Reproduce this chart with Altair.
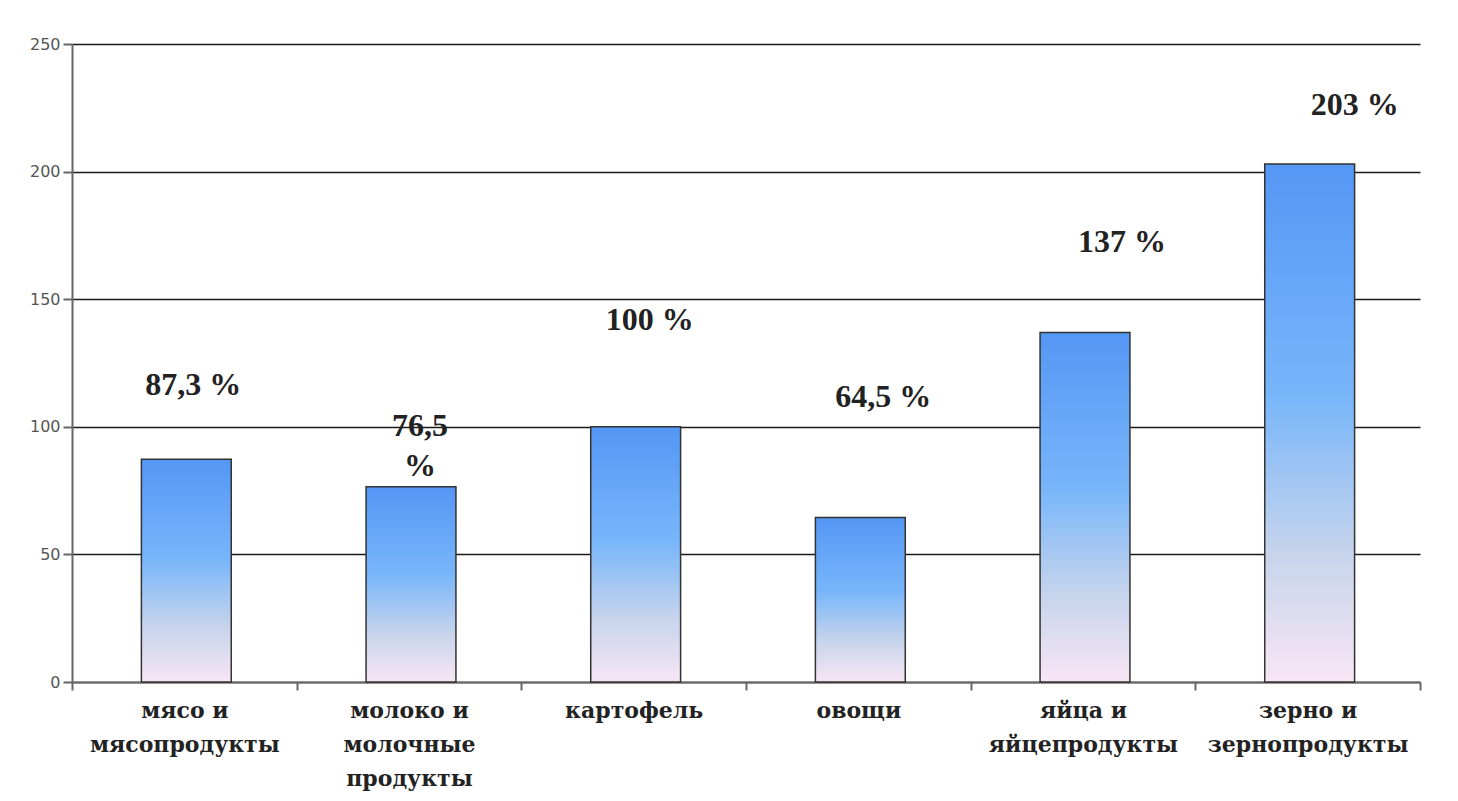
import altair as alt
import pandas as pd

categories = [
    "мясо и\nмясопродукты",
    "молоко и\nмолочные\nпродукты",
    "картофель",
    "овощи",
    "яйца и\nяйцепродукты",
    "зерно и\nзернопродукты",
]
values = [87.3, 76.5, 100, 64.5, 137, 203]
labels = ["87,3 %", "76,5\n%", "100 %", "64,5 %", "137 %", "203 %"]
y_ticks = [0, 50, 100, 150, 200, 250]

df = pd.DataFrame({"cat": categories, "val": values, "lab": labels})

# label offsets (style: where each annotation sits relative to its bar top)
label_dx = [7, 9, 14, 23, 37, 45]
label_dy = [-74, -61, -107, -120, -90, -59]

x_enc = alt.X(
    "cat:N",
    sort=categories,
    scale=alt.Scale(paddingInner=0, paddingOuter=0),
    axis=alt.Axis(
        title=None,
        labelAngle=0,
        labelExpr="split(datum.label, '\\n')",
        labelFont="DejaVu Serif",
        labelFontWeight="bold",
        labelFontSize=22,
        labelColor="#222222",
        labelLineHeight=34,
        labelBaseline="top",
        labelPadding=10,
        labelOverlap=False,
        labelLimit=0,
        tickBand="extent",
        tickSize=8,
        tickColor="#666666",
        tickWidth=2,
        domainColor="#666666",
        domainWidth=2,
        grid=False,
    ),
)

y_scale = alt.Scale(domain=[0, 250], nice=False)

bars = alt.Chart(df).mark_bar(
    width=alt.RelativeBandSize(0.4),
    xOffset=2,
    color=alt.Gradient(
        gradient="linear",
        stops=[
            alt.GradientStop(color="#5497f5", offset=0),
            alt.GradientStop(color="#78b6fa", offset=0.45),
            alt.GradientStop(color="#c6d4ec", offset=0.75),
            alt.GradientStop(color="#f8e6f5", offset=1),
        ],
        x1=0, x2=0, y1=0, y2=1,
    ),
    stroke="#333333",
    strokeWidth=1.5,
).encode(
    x=x_enc,
    y=alt.Y(
        "val:Q",
        scale=y_scale,
        axis=alt.Axis(
            title=None,
            values=y_ticks,
            labelFont="DejaVu Sans",
            labelFontSize=16,
            labelColor="#555555",
            labelPadding=3,
            tickSize=9,
            tickColor="#666666",
            tickWidth=2,
            domainColor="#666666",
            domainWidth=2,
            grid=True,
            gridColor="#1a1a1a",
            gridWidth=1.6,
            gridOpacity=1,
        ),
    ),
)

layers = [bars]
for i, c in enumerate(categories):
    t = alt.Chart(df).transform_filter(
        alt.datum.cat == c
    ).mark_text(
        font="Liberation Serif",
        fontWeight="bold",
        fontSize=32,
        color="#222222",
        lineBreak="\n",
        lineHeight=40,
        baseline="middle",
        align="center",
        dx=label_dx[i] + 2,
        dy=label_dy[i],
    ).encode(
        x=alt.X("cat:N", sort=categories),
        y=alt.Y("val:Q", scale=y_scale),
        text="lab:N",
    )
    layers.append(t)

chart = alt.layer(*layers).properties(
    width=1348,
    height=638,
    autosize=alt.AutoSizeParams(type="none"),
    padding={"left": 64, "top": 36, "right": 30, "bottom": 111},
    background="white",
).configure_view(stroke=None)

chart.save("out.html", embed_options={"renderer": "svg", "actions": False})
